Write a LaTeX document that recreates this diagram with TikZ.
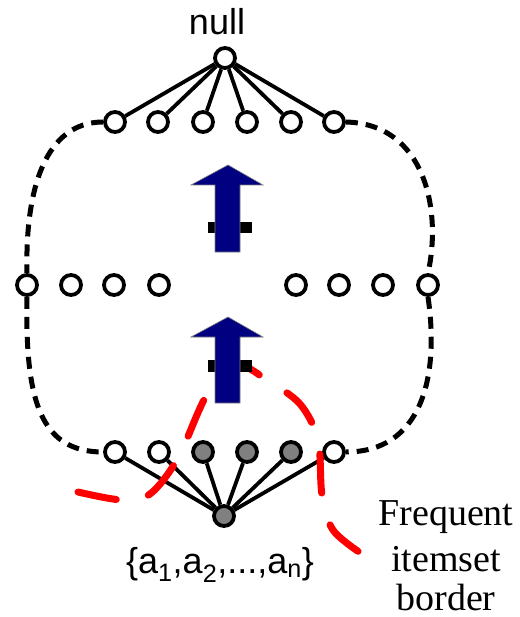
\documentclass[tikz,border=0pt]{standalone}
\usepackage{fontspec}
\setmainfont{Liberation Sans}
\newfontfamily\serifx{Liberation Serif}
\definecolor{navyblue}{RGB}{0,0,128}
\definecolor{nodegray}{RGB}{128,128,128}
\begin{document}
\begin{tikzpicture}[x=1pt,y=-1pt,
  nd/.style={circle,draw,line width=3.8pt,minimum size=20pt,inner sep=0pt,fill=white},
  fnd/.style={nd,fill=nodegray},
  edge/.style={line width=3.8pt},
  outline/.style={line width=5pt,dash pattern=on 12pt off 8pt},
  borderline/.style={line width=7pt,red,line cap=round,dash pattern=on 39pt off 33pt},
  uparrow/.style={fill=navyblue,draw=gray,line width=0.6pt},
  bar/.style={fill=black},
  sanslbl/.style={font=\fontsize{36}{40}\selectfont,inner sep=0pt,anchor=base},
  seriflbl/.style={font=\serifx\fontsize{38}{44}\selectfont,inner sep=0pt,anchor=base}]
\useasboundingbox (0,0) rectangle (519,617);

% nodes
\node[nd] (top) at (225,58) {};
\node[nd] (ua) at (115,122) {};
\node[nd] (ub) at (158,122) {};
\node[nd] (uc) at (203,122) {};
\node[nd] (ud) at (247,122) {};
\node[nd] (ue) at (291,122) {};
\node[nd] (uf) at (334,122) {};

\node[nd] (ma) at (27,285) {};
\node[nd] (mb) at (71,285) {};
\node[nd] (mc) at (114,285) {};
\node[nd] (md) at (159,285) {};
\node[nd] (me) at (296,285) {};
\node[nd] (mf) at (339,285) {};
\node[nd] (mg) at (383,285) {};
\node[nd] (mh) at (428,285) {};

\node[nd] (la) at (115,452) {};
\node[nd] (lb) at (159,452) {};
\node[fnd] (lc) at (203,452) {};
\node[fnd] (ld) at (247,452) {};
\node[fnd] (le) at (291,452) {};
\node[nd] (lf) at (334,452) {};
\node[fnd] (bot) at (224,516) {};

% connectors
\foreach \n in {ua,ub,uc,ud,ue,uf} \draw[edge] (top) -- (\n);
\foreach \n in {la,lb,lc,ld,le,lf} \draw[edge] (bot) -- (\n);

% dashed outline
\draw[outline] (ua.west) .. controls (45,122) and (25,190) .. (ma.north);
\draw[outline] (ma.south) .. controls (25,400) and (40,452) .. (la.west);
\draw[outline] (uf.east) .. controls (425,124) and (442,210) .. (mh.north);
\draw[outline] (mh.south) .. controls (440,380) and (420,452) .. (lf.east);

% frequent itemset border
\draw[borderline] plot[smooth,tension=0.55] coordinates {(78,492) (122,500) (150,494) (178,458) (208,393) (240,367) (268,381) (300,404) (318,440) (322,495) (333,530) (362,554)};

% arrows
\fill[bar] (208,222) rectangle (252,233);
\filldraw[uparrow] (228,165) -- (263,185) -- (240,185) -- (240,252) -- (215,252) -- (215,185) -- (191,185) -- cycle;
\fill[bar] (208,360) rectangle (252,372);
\filldraw[uparrow] (228,317) -- (263,337) -- (240,337) -- (240,403) -- (215,403) -- (215,337) -- (191,337) -- cycle;

% labels
\node[sanslbl] (nulltxt) at (217,35) {null};
\node[sanslbl] (settxt) at (220,573) {\{a\textsubscript{1},a\textsubscript{2},...,a\textsubscript{n}\}};
\node[seriflbl] (fb1) at (446,525) {Frequent};
\node[seriflbl] (fb2) at (446,571) {itemset};
\node[seriflbl] (fb3) at (446,610) {border};
\end{tikzpicture}
\end{document}
